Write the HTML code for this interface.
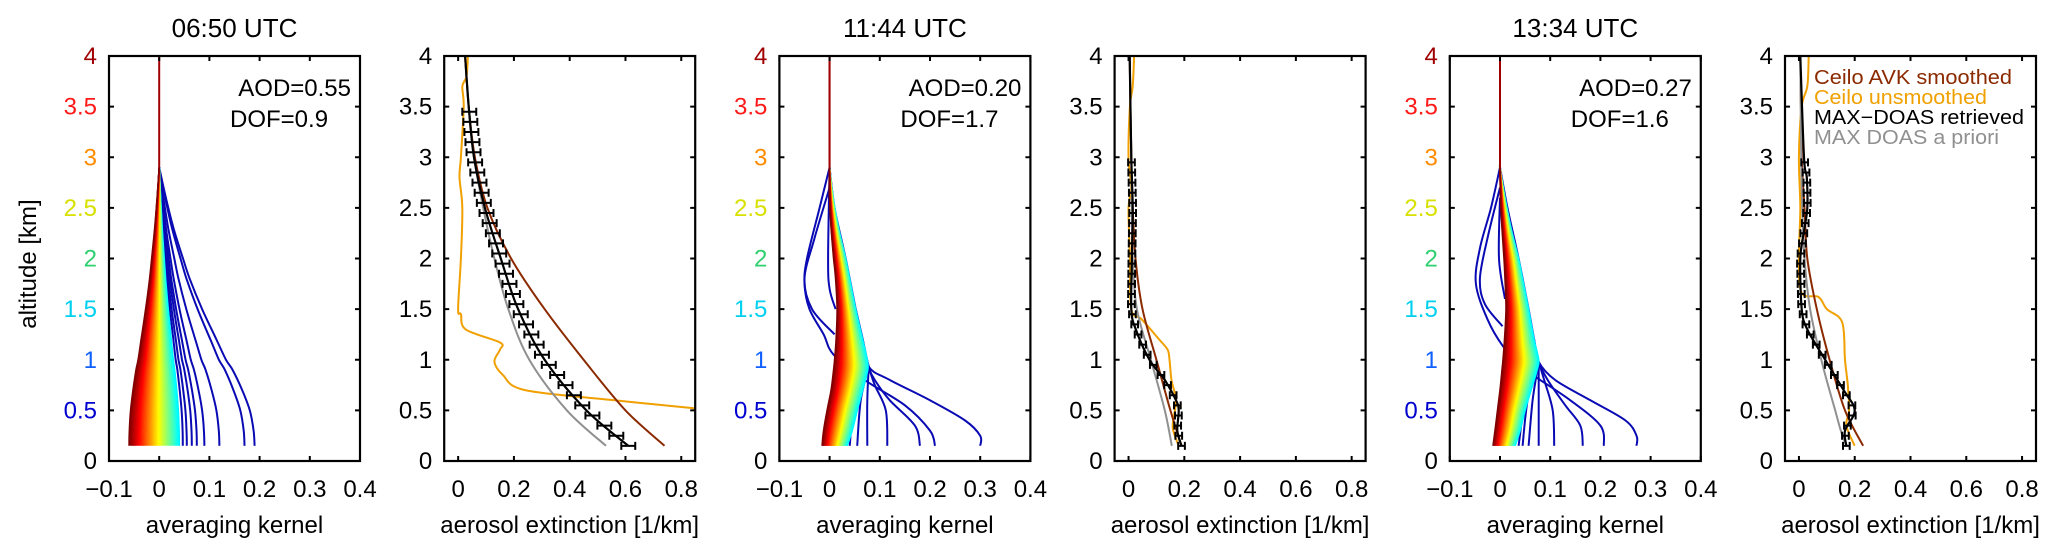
<!DOCTYPE html>
<html><head><meta charset="utf-8"><style>
html,body{margin:0;padding:0;background:#fff;}
svg{display:block;font-family:"Liberation Sans",Arial,sans-serif;}
</style></head><body>
<svg id="fig" width="2067" height="558" viewBox="0 0 2067 558" xmlns="http://www.w3.org/2000/svg"></svg>
<script>
// ---------- data ----------
const altGrid = [0.15,0.3,0.5,0.7,0.9,1.0,1.2,1.5,1.8,2.0,2.3,2.6,2.9,3.0,4.0];
const times = ["06:50 UTC","11:44 UTC","13:34 UTC"];
const aodLabels = ["AOD=0.55","AOD=0.20","AOD=0.27"];
const dofLabels = ["DOF=0.9","DOF=1.7","DOF=1.6"];
const yTicks = [0,0.5,1,1.5,2,2.5,3,3.5,4];
const yTickColors = ["#000","#0000d0","#1060ff","#00d0f0","#30d070","#d8e000","#ff8c00","#ff1a1a","#a00000"];
const avkTicks = [-0.1,0,0.1,0.2,0.3,0.4];
const extTicks = [0,0.2,0.4,0.6,0.8];

// panel 1 kernels
const p1Alt   = [0.15,0.3,0.5,0.7,0.9,1.0,1.2,1.5,1.8,2.0,2.3,2.6,2.9];
const p1Shape = [1,0.99,0.95,0.87,0.77,0.70,0.6,0.45,0.32,0.25,0.15,0.07,0.0];
const p1BlueBottoms = [0.19,0.17,0.12,0.09,0.075,0.065,0.055,0.047];
const p1BulkBlue = 0.04, p1BulkRed = -0.06;

// panel 3 kernels
const p3RedEnv  = [-0.015,-0.012,-0.005,0.003,0.008,0.01,0.013,0.015,0.012,0.008,0.003,0.0,0,0,0];
const p3BlueEnv = [0.035,0.045,0.055,0.066,0.076,0.075,0.066,0.052,0.04,0.032,0.018,0.007,0,0,0];
const p3Curves = [
 [[0.15,0.30],[0.25,0.30],[0.4,0.27],[0.6,0.20],[0.8,0.12],[0.93,0.078],[1.2,0.066],[1.5,0.052],[2.0,0.032],[2.5,0.01],[2.9,0]],
 [[0.15,0.18],[0.35,0.17],[0.6,0.12],[0.8,0.09],[0.93,0.078],[1.2,0.066],[1.5,0.052]],
 [[0.15,0.115],[0.5,0.112],[0.75,0.09],[0.93,0.078],[1.2,0.066]],
 [[0.15,0.075],[0.6,0.075],[0.93,0.078]],
 [[0.15,0.055],[0.6,0.062],[0.93,0.078]],
 [[0.15,0.04],[0.6,0.05],[0.93,0.076]],
 [[0.15,0.21],[0.3,0.2],[0.55,0.15],[0.8,0.07],[1.05,0.008],[1.25,-0.012],[1.5,-0.04],[1.75,-0.05],[2.0,-0.045],[2.5,-0.02],[2.9,0]],
 [[1.25,0.01],[1.5,-0.035],[1.8,-0.05],[2.2,-0.03],[2.7,0]],
 [[1.5,0.012],[1.7,0.0],[2.0,-0.003],[2.9,0]]
];
// panel 5 kernels
const p5RedEnv  = [-0.014,-0.01,-0.005,0.0,0.004,0.006,0.009,0.012,0.01,0.008,0.004,0.001,0,0,0];
const p5BlueEnv = [0.03,0.04,0.05,0.062,0.074,0.077,0.068,0.057,0.045,0.037,0.022,0.01,0,0,0];
const p5Curves = [
 [[0.15,0.272],[0.25,0.272],[0.4,0.25],[0.6,0.18],[0.8,0.11],[0.98,0.077],[1.2,0.068],[1.5,0.057],[2.0,0.037],[2.5,0.015],[2.9,0]],
 [[0.15,0.165],[0.35,0.16],[0.55,0.13],[0.8,0.095],[0.98,0.077],[1.2,0.068]],
 [[0.15,0.108],[0.5,0.105],[0.8,0.088],[0.98,0.077]],
 [[0.15,0.077],[0.6,0.077],[0.98,0.077]],
 [[0.15,0.057],[0.6,0.065],[0.98,0.077]],
 [[0.15,0.045],[0.6,0.055],[0.98,0.075]],
 [[0.15,0.037],[0.6,0.05],[0.98,0.073]],
 [[0.15,0.207],[0.35,0.2],[0.6,0.14],[0.85,0.065],[0.95,0.04],[1.14,0.005],[1.4,-0.025],[1.75,-0.048],[2.1,-0.04],[2.5,-0.018],[2.9,0]],
 [[1.33,0.005],[1.55,-0.03],[1.8,-0.04],[2.2,-0.025],[2.7,0]],
 [[1.6,0.01],[2.0,-0.002],[2.6,0]]
];

// extinction profiles [alt, value]
const p2Retrieved = [[0.15,0.61],[0.5,0.46],[1.0,0.31],[1.5,0.215],[2.0,0.153],[2.5,0.096],[3.0,0.057],[3.5,0.038],[4.0,0.025]];
const p2Prior     = [[0.15,0.53],[0.5,0.39],[1.0,0.255],[1.5,0.18],[2.0,0.13],[2.5,0.09],[3.0,0.057],[3.5,0.038],[4.0,0.025]];
const p2Smoothed  = [[0.15,0.74],[0.5,0.60],[1.0,0.45],[1.5,0.31],[2.0,0.19],[2.5,0.105],[3.0,0.06],[3.5,0.038],[4.0,0.025]];
const p2Unsmooth  = [[0.52,0.85],[0.6,0.56],[0.7,0.24],[0.85,0.16],[0.98,0.13],[1.1,0.15],[1.17,0.15],[1.3,0.027],[1.45,0.01],[1.5,0.0],[2.0,0.01],[2.5,0.015],[2.8,0.005],[3.0,0.01],[3.5,0.02],[3.7,0.015],[3.8,0.03],[4.0,0.035]];
const p4Retrieved = [[0.15,0.19],[0.3,0.175],[0.5,0.18],[0.6,0.17],[0.8,0.13],[1.0,0.075],[1.3,0.026],[1.5,0.01],[2.0,0.012],[2.5,0.015],[3.0,0.01],[4.0,0.004]];
const p4Prior     = [[0.15,0.155],[0.5,0.13],[1.0,0.08],[1.5,0.03],[2.0,0.015],[2.5,0.012],[3.0,0.01],[4.0,0.004]];
const p4Smoothed  = [[0.15,0.19],[0.5,0.15],[1.0,0.10],[1.5,0.05],[2.0,0.025],[2.5,0.015],[3.0,0.01],[4.0,0.004]];
const p4Unsmooth  = [[0.15,0.18],[0.3,0.16],[0.4,0.16],[0.6,0.17],[0.8,0.154],[1.0,0.147],[1.1,0.14],[1.2,0.11],[1.4,0.047],[1.5,0.01],[2.0,0.005],[2.5,0.0],[2.7,0.01],[3.0,0.0],[3.5,0.005],[3.7,0.015],[4.0,0.02]];
const p6Retrieved = [[0.15,0.17],[0.3,0.165],[0.5,0.2],[0.7,0.16],[1.0,0.094],[1.3,0.03],[1.5,0.01],[2.0,0.005],[2.3,0.02],[2.5,0.03],[2.8,0.028],[3.0,0.018],[4.0,0.005]];
const p6Prior     = [[0.15,0.17],[0.3,0.15],[0.5,0.13],[1.0,0.08],[1.5,0.04],[2.0,0.02],[2.5,0.012],[3.0,0.008],[4.0,0.005]];
const p6Smoothed  = [[0.15,0.23],[0.5,0.165],[1.0,0.11],[1.5,0.064],[2.0,0.03],[2.5,0.02],[3.0,0.01],[4.0,0.005]];
const p6Unsmooth  = [[0.15,0.2],[0.35,0.17],[0.5,0.18],[0.75,0.175],[1.0,0.165],[1.37,0.155],[1.5,0.1],[1.62,0.07],[1.66,0.01],[2.0,0.0],[2.5,0.005],[3.0,0.0],[3.5,0.01],[3.7,0.03],[4.0,0.035]];
const errHalf = [0.025,0.012,0.012];
const errTop = [3.5,3.0,3.0];

const legendLabels = ["Ceilo AVK smoothed","Ceilo unsmoothed","MAX\u2212DOAS retrieved","MAX DOAS a priori"];
const legendColors = ["#8b2a00","#f0a000","#000000","#909090"];

// ---------- layout ----------
const NS="http://www.w3.org/2000/svg";
const svg=document.getElementById('fig');
const TOP=56,BOT=461,W=251;
function left(i){return 109+335.2*i;}
function yS(a){return BOT-(a/4)*(BOT-TOP);}
function mk(tag,attrs,parent){const e=document.createElementNS(NS,tag);for(const k in attrs)e.setAttribute(k,attrs[k]);(parent||svg).appendChild(e);return e;}
function jet(t){const c=v=>Math.max(0,Math.min(1,v));const r=c(1.5-Math.abs(4*t-3)),g=c(1.5-Math.abs(4*t-2)),b=c(1.5-Math.abs(4*t-1));return `rgb(${Math.round(r*255)},${Math.round(g*255)},${Math.round(b*255)})`;}
function spline(pts){
  if(pts.length<3) return 'M'+pts.map(p=>p[0].toFixed(1)+','+p[1].toFixed(1)).join('L');
  let d='M'+pts[0][0].toFixed(1)+','+pts[0][1].toFixed(1);
  for(let i=0;i<pts.length-1;i++){
    const p0=pts[Math.max(0,i-1)],p1=pts[i],p2=pts[i+1],p3=pts[Math.min(pts.length-1,i+2)];
    const c1=[p1[0]+(p2[0]-p0[0])/6,p1[1]+(p2[1]-p0[1])/6],c2=[p2[0]-(p3[0]-p1[0])/6,p2[1]-(p3[1]-p1[1])/6];
    d+=`C${c1[0].toFixed(1)},${c1[1].toFixed(1)} ${c2[0].toFixed(1)},${c2[1].toFixed(1)} ${p2[0].toFixed(1)},${p2[1].toFixed(1)}`;
  }
  return d;
}
function interp(prof,a){
  for(let i=0;i<prof.length-1;i++){if(a>=prof[i][0]&&a<=prof[i+1][0]){const f=(a-prof[i][0])/(prof[i+1][0]-prof[i][0]);return prof[i][1]+f*(prof[i+1][1]-prof[i][1]);}}
  return prof[prof.length-1][1];
}

function axesFrame(i,ticks,xS,isAvk){
  const L=left(i);
  const g=mk('g',{});
  
  
  yTicks.forEach((t,k)=>{
    const y=yS(t);
    mk('line',{x1:L,x2:L+5,y1:y,y2:y,stroke:'#000','stroke-width':2},g);
    mk('line',{x1:L+W-5,x2:L+W,y1:y,y2:y,stroke:'#000','stroke-width':2},g);
    const tx=mk('text',{x:L-12,y:y+8,'font-size':24,'text-anchor':'end',fill:isAvk?yTickColors[k]:'#000'},g);
    tx.textContent=String(t);
    
    
  });
  ticks.forEach(t=>{
    const x=xS(t);
    mk('line',{x1:x,x2:x,y1:BOT,y2:BOT-5,stroke:'#000','stroke-width':2},g);
    mk('line',{x1:x,x2:x,y1:TOP,y2:TOP+5,stroke:'#000','stroke-width':2},g);
    const tx=mk('text',{x:x,y:497,'font-size':24,'text-anchor':'middle'},g);
    tx.textContent=(t<0?'\u2212'+Math.abs(t):String(t));
    
    
  });
  const r=mk('rect',{x:L,y:TOP,width:W,height:BOT-TOP,fill:'none',stroke:'#000','stroke-width':2.2},g);
  
  
  const xt=mk('text',{x:L+W/2,y:533,'font-size':24,'text-anchor':'middle'},g);
  xt.textContent=isAvk?'averaging kernel':'aerosol extinction [1/km]';
  
  
}

function avkPanel(i,alts,redEnv,blueEnv,curves,idx){
  const L=left(i);
  const xS=v=>L+(v+0.1)/0.5*W;
  const g=mk('g',{fill:'none','stroke-linejoin':'round'});
  
  
  curves.forEach(c=>{
    const p=mk('path',{d:spline(c.map(q=>[xS(q[1]),yS(q[0])])),stroke:'#0a0ab4','stroke-width':2},g);
    
    
  });
  const N=40;
  for(let k=0;k<N;k++){
    const f=k/(N-1);
    const pts=alts.map((a,j)=>[xS(blueEnv[j]*(1-f)+redEnv[j]*f),yS(a)]);
    const p=mk('path',{d:spline(pts),stroke:jet(0.36+0.64*f),'stroke-width':1.6},g);
    
    
  }
  const top=mk('line',{x1:xS(0),x2:xS(0),y1:yS(2.9),y2:yS(4),stroke:'#a00000','stroke-width':2},g);
  
  
  axesFrame(i,avkTicks,xS,true);
  const t=mk('text',{x:L+W/2,y:37,'font-size':26,'text-anchor':'middle'});
  t.textContent=times[idx];
  
  
  const a=mk('text',{x:L+W-9,y:96,'font-size':24,'text-anchor':'end'});
  a.textContent=aodLabels[idx];
  
  
  const d=mk('text',{x:L+121,y:127,'font-size':24});
  d.textContent=dofLabels[idx];
  
  
}

function extPanel(i,ret,prior,sm,uns,err,etop){
  const L=left(i);
  const xS=v=>L+(v+0.05)/0.9*W;
  const cp=mk('clipPath',{id:'cp'+i});
  mk('rect',{x:L,y:TOP,width:W,height:BOT-TOP},cp);
  const g=mk('g',{fill:'none','clip-path':'url(#cp'+i+')','stroke-linejoin':'round'});
  
  
  const line=(prof,col,w,name)=>{const p=mk('path',{d:spline(prof.map(q=>[xS(q[1]),yS(q[0])])),stroke:col,'stroke-width':w},g);
    
    };
  line(uns,legendColors[1],2,'ceilo-unsmoothed-line');
  line(sm,legendColors[0],2,'ceilo-avk-smoothed-line');
  line(prior,legendColors[3],2,'maxdoas-apriori-line');
  line(ret,legendColors[2],2.2,'maxdoas-retrieved-line');
  for(let a=0.15;a<=etop+0.01;a+=0.1){
    const v=interp(ret,a),y=yS(a),x1=xS(v-err),x2=xS(v+err);
    const eb=mk('path',{d:`M${x1},${y}H${x2}M${x1},${y-4}V${y+4}M${x2},${y-4}V${y+4}`,stroke:'#000','stroke-width':2},g);
    
    
  }
  axesFrame(i,extTicks,xS,false);
}

const p1Red=p1Shape.map(s=>p1BulkRed*s), p1Blue=p1Shape.map(s=>p1BulkBlue*s);
const p1Curves=p1BlueBottoms.map(b=>p1Alt.map((a,j)=>[a,b*p1Shape[j]]));
avkPanel(0,p1Alt,p1Red,p1Blue,p1Curves,0);
extPanel(1,p2Retrieved,p2Prior,p2Smoothed,p2Unsmooth,errHalf[0],errTop[0]);
avkPanel(2,altGrid,p3RedEnv,p3BlueEnv,p3Curves,1);
extPanel(3,p4Retrieved,p4Prior,p4Smoothed,p4Unsmooth,errHalf[1],errTop[1]);
avkPanel(4,altGrid,p5RedEnv,p5BlueEnv,p5Curves,2);
extPanel(5,p6Retrieved,p6Prior,p6Smoothed,p6Unsmooth,errHalf[2],errTop[2]);

const yt=mk('text',{x:0,y:0,'font-size':24,'text-anchor':'middle',transform:'translate(36,264) rotate(-90)'});
yt.textContent='altitude [km]';



const lg=mk('g',{});


legendLabels.forEach((s,k)=>{
  const t=mk('text',{x:1814,y:84+20*k,'font-size':20,fill:legendColors[k],textLength:[198,173,210,185][k],lengthAdjust:'spacingAndGlyphs'},lg);
  t.textContent=s;
  
  
});
</script>
</body></html>
